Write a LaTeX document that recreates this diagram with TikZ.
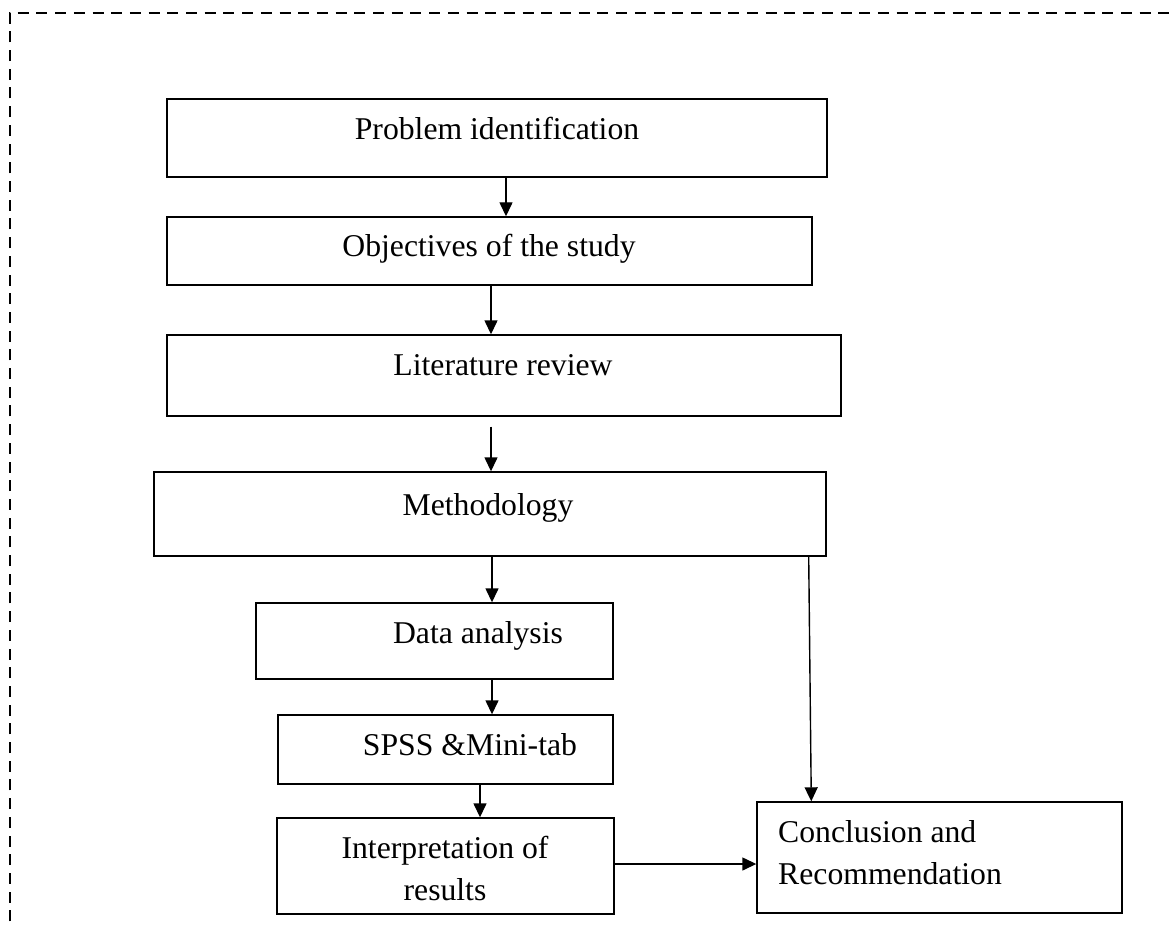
\documentclass[tikz,border=0pt]{standalone}
\usepackage{fontspec}
\setmainfont{Liberation Serif}
\usetikzlibrary{arrows.meta}
\begin{document}
\begin{tikzpicture}[x=1pt,y=-1pt,
  box/.style={draw=black,line width=1.4pt,rectangle,inner sep=0pt},
  txt/.style={inner sep=0pt,anchor=base,font=\fontsize{31.7}{42}\selectfont},
  arr/.style={draw=black,line width=1.4pt,-{Triangle[length=14pt,width=13pt]}},
  frame/.style={draw=black,line width=2pt,dash pattern=on 11pt off 7.7pt}]
\useasboundingbox (0,0) rectangle (1170,928);
\draw[frame] (10,940) -- (10,12.7) -- (1185,12.7);
% boxes
\node[box,minimum width=660pt,minimum height=78pt] (b1) at (497,138) {};
\node[box,minimum width=645pt,minimum height=68pt] (b2) at (489.5,251) {};
\node[box,minimum width=674pt,minimum height=81pt] (b3) at (504,375.5) {};
\node[box,minimum width=672pt,minimum height=84pt] (b4) at (490,514) {};
\node[box,minimum width=357pt,minimum height=76pt] (b5) at (434.5,641) {};
\node[box,minimum width=335pt,minimum height=69pt] (b6) at (445.5,749.5) {};
\node[box,minimum width=337pt,minimum height=96pt] (b7) at (445.5,866) {};
\node[box,minimum width=365pt,minimum height=111pt] (b8) at (939.5,857.5) {};
% texts
\node[txt] (t1) at (497,140) {Problem identification};
\node[txt] (t2) at (489,256) {Objectives of the study};
\node[txt] (t3) at (503,375) {Literature review};
\node[txt] (t4) at (488,515) {Methodology};
\node[txt] (t5) at (478,643) {Data analysis};
\node[txt] (t6) at (470,755) {SPSS \&Mini-tab};
\node[txt] (t7a) at (445,858) {Interpretation of};
\node[txt] (t7b) at (445,900) {results};
\node[txt,anchor=base west] (t8a) at (778,842) {Conclusion and};
\node[txt,anchor=base west] (t8b) at (778,884) {Recommendation};
% connectors
\draw[arr] ([xshift=9pt]b1.south) -- ([xshift=16.5pt]b2.north);
\draw[arr] ([xshift=1.5pt]b2.south) -- ([xshift=-13pt]b3.north);
\draw[arr] ([xshift=-13pt,yshift=-10pt]b3.south) -- ([xshift=1pt]b4.north);
\draw[arr] ([xshift=2pt]b4.south) -- ([xshift=57.5pt]b5.north);
\draw[arr] ([xshift=57.5pt]b5.south) -- ([xshift=46.5pt]b6.north);
\draw[arr] ([xshift=34.5pt]b6.south) -- ([xshift=34.5pt]b7.north);
\draw[arr] ([xshift=-18pt]b4.south east) -- ([xshift=55pt]b8.north west);
\draw[arr] ([yshift=2pt]b7.east) -- ([yshift=2pt]b7.east -| b8.west);
\end{tikzpicture}
\end{document}
